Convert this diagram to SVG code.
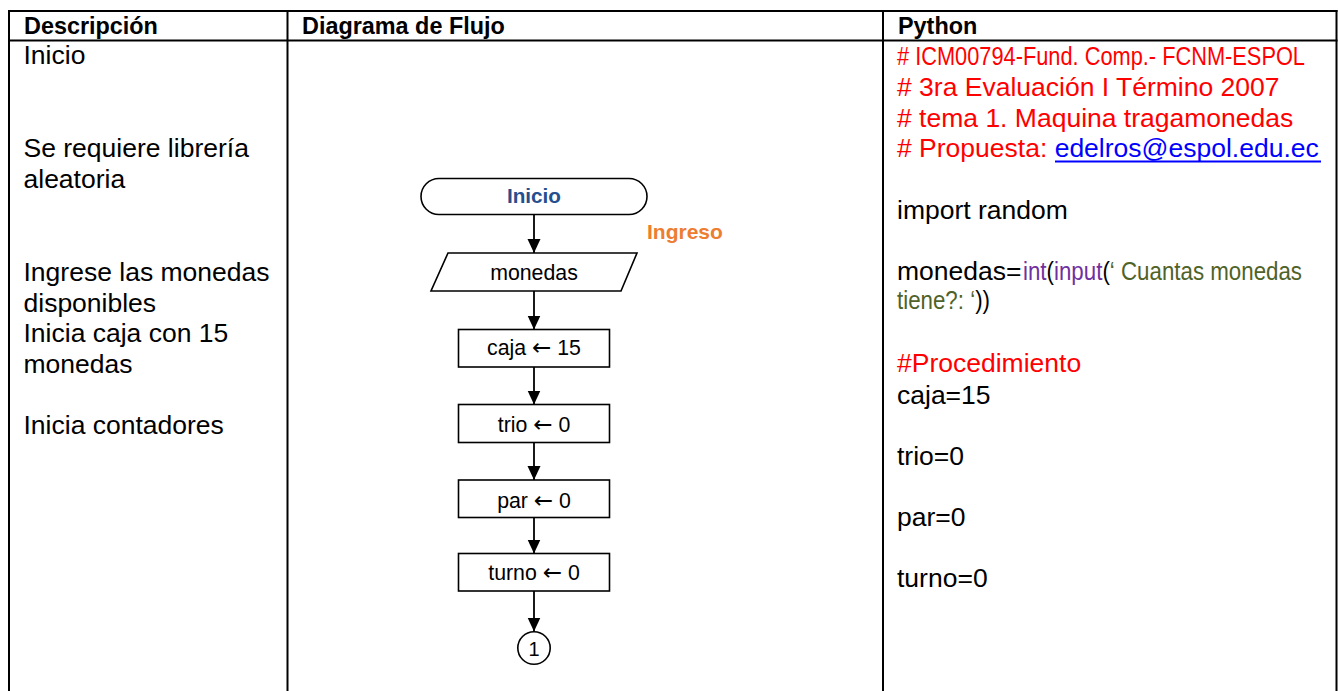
<svg xmlns="http://www.w3.org/2000/svg" width="1338" height="691" viewBox="0 0 1338 691">
<style>
text{font-family:"Liberation Sans",Arial,sans-serif;}
.hd{font-size:23.4px;font-weight:bold;fill:#000;}
.b{font-size:26.5px;fill:#000;}
.n{font-size:25px;}
.red{fill:#FF0000;}
.pur{fill:#7030A0;}
.grn{fill:#4F6228;}
.blk{fill:#000;}
.fc{font-size:21.3px;fill:#000;text-anchor:middle;}
.arr{font-family:"DejaVu Sans",sans-serif;font-size:23px;}
.tl{stroke:#000;stroke-width:2;fill:none;}
.shape{stroke:#000;stroke-width:1.6;fill:#fff;}
.conn{stroke:#000;stroke-width:1.8;fill:none;}
</style>
<defs>
<marker id="ah" markerUnits="userSpaceOnUse" markerWidth="15" markerHeight="14" refX="14" refY="7" orient="auto" viewBox="0 0 15 14">
<path d="M0,0.5 L14,7 L0,13.5 Z" fill="#000"/>
</marker>
</defs>
<rect width="1338" height="691" fill="#fff"/>
<g id="table">
<line class="tl" x1="8" y1="11" x2="1337.5" y2="11"/>
<line class="tl" x1="8" y1="40.5" x2="1337.5" y2="40.5"/>
<line class="tl" x1="9" y1="10" x2="9" y2="691"/>
<line class="tl" x1="287.5" y1="10" x2="287.5" y2="691"/>
<line class="tl" x1="883" y1="10" x2="883" y2="691"/>
<line class="tl" x1="1336.5" y1="10" x2="1336.5" y2="691"/>
<text class="hd" x="24" y="33.5">Descripción</text>
<text class="hd" x="302" y="33.5">Diagrama de Flujo</text>
<text class="hd" x="898" y="33.5">Python</text>
</g>
<g id="descripcion">
<text class="b" x="23.5" y="64">Inicio</text>
<text class="b" x="23.5" y="157">Se requiere librería</text>
<text class="b" x="23.5" y="187.5">aleatoria</text>
<text class="b" x="23.5" y="281">Ingrese las monedas</text>
<text class="b" x="23.5" y="311.5">disponibles</text>
<text class="b" x="23.5" y="342">Inicia caja con 15</text>
<text class="b" x="23.5" y="372.5">monedas</text>
<text class="b" x="23.5" y="434">Inicia contadores</text>
</g>
<g id="python">
<text class="n red" transform="translate(897,64.5) scale(0.872,1)"># ICM00794-Fund. Comp.- FCNM-ESPOL</text>
<text class="b red" x="897" y="95.5"># 3ra Evaluación I Término 2007</text>
<text class="b red" x="897" y="126.5"># tema 1. Maquina tragamonedas</text>
<text class="b" x="897" y="157"><tspan class="red"># Propuesta: </tspan><tspan fill="#0000FF">edelros@espol.edu.ec</tspan></text>
<line x1="1055" y1="161.5" x2="1321" y2="161.5" stroke="#0000FF" stroke-width="1.8"/>
<text class="b" x="897" y="218.5">import random</text>
<text class="b" x="897" y="279.5">monedas=</text>
<text class="n" transform="translate(1023,279.5) scale(0.8925,1)"><tspan class="pur">int</tspan><tspan class="blk">(</tspan><tspan class="pur">input</tspan><tspan class="blk">(</tspan><tspan class="grn">‘ Cuantas monedas</tspan></text>
<text class="n" transform="translate(897,309) scale(0.8925,1)"><tspan class="grn">tiene?: ‘</tspan><tspan class="blk">))</tspan></text>
<text class="b red" x="897" y="372">#Procedimiento</text>
<text class="b" x="897" y="403.5">caja=15</text>
<text class="b" x="897" y="464.5">trio=0</text>
<text class="b" x="897" y="526">par=0</text>
<text class="b" x="897" y="587">turno=0</text>
</g>
<g id="connectors">
<line class="conn" x1="534" y1="214.5" x2="534" y2="253" marker-end="url(#ah)"/>
<line class="conn" x1="534" y1="291" x2="534" y2="329.5" marker-end="url(#ah)"/>
<line class="conn" x1="534" y1="367" x2="534" y2="404.5" marker-end="url(#ah)"/>
<line class="conn" x1="534" y1="442.5" x2="534" y2="480" marker-end="url(#ah)"/>
<line class="conn" x1="534" y1="517.5" x2="534" y2="553.5" marker-end="url(#ah)"/>
<line class="conn" x1="534" y1="591" x2="534" y2="631.5" marker-end="url(#ah)"/>
</g>
<g id="n-inicio">
<rect class="shape" x="421" y="178.5" width="226" height="36" rx="18" ry="18"/>
<text x="534" y="203" style="font-size:20.7px;font-weight:bold;fill:#264F8F;text-anchor:middle">Inicio</text>
</g>
<g id="n-ingreso-label">
<text x="647" y="238.5" style="font-size:21px;font-weight:bold;fill:#ED7D31">Ingreso</text>
</g>
<g id="n-monedas">
<polygon class="shape" points="448,253 637,253 621,291 431,291"/>
<text class="fc" x="534" y="280">monedas</text>
</g>
<g id="n-caja">
<rect class="shape" x="458.5" y="329.5" width="151" height="37.5"/>
<text class="fc" x="534" y="355">caja <tspan class="arr">←</tspan> 15</text>
</g>
<g id="n-trio">
<rect class="shape" x="458.5" y="404.5" width="151" height="38"/>
<text class="fc" x="534" y="431.5">trio <tspan class="arr">←</tspan> 0</text>
</g>
<g id="n-par">
<rect class="shape" x="458.5" y="480" width="151" height="37.5"/>
<text class="fc" x="534" y="508">par <tspan class="arr">←</tspan> 0</text>
</g>
<g id="n-turno">
<rect class="shape" x="458.5" y="553.5" width="151" height="37.5"/>
<text class="fc" x="534" y="580">turno <tspan class="arr">←</tspan> 0</text>
</g>
<g id="n-conector1">
<circle class="shape" cx="534" cy="648" r="16.2"/>
<text class="fc" x="534" y="655.5" style="font-size:20px">1</text>
</g>
</svg>
